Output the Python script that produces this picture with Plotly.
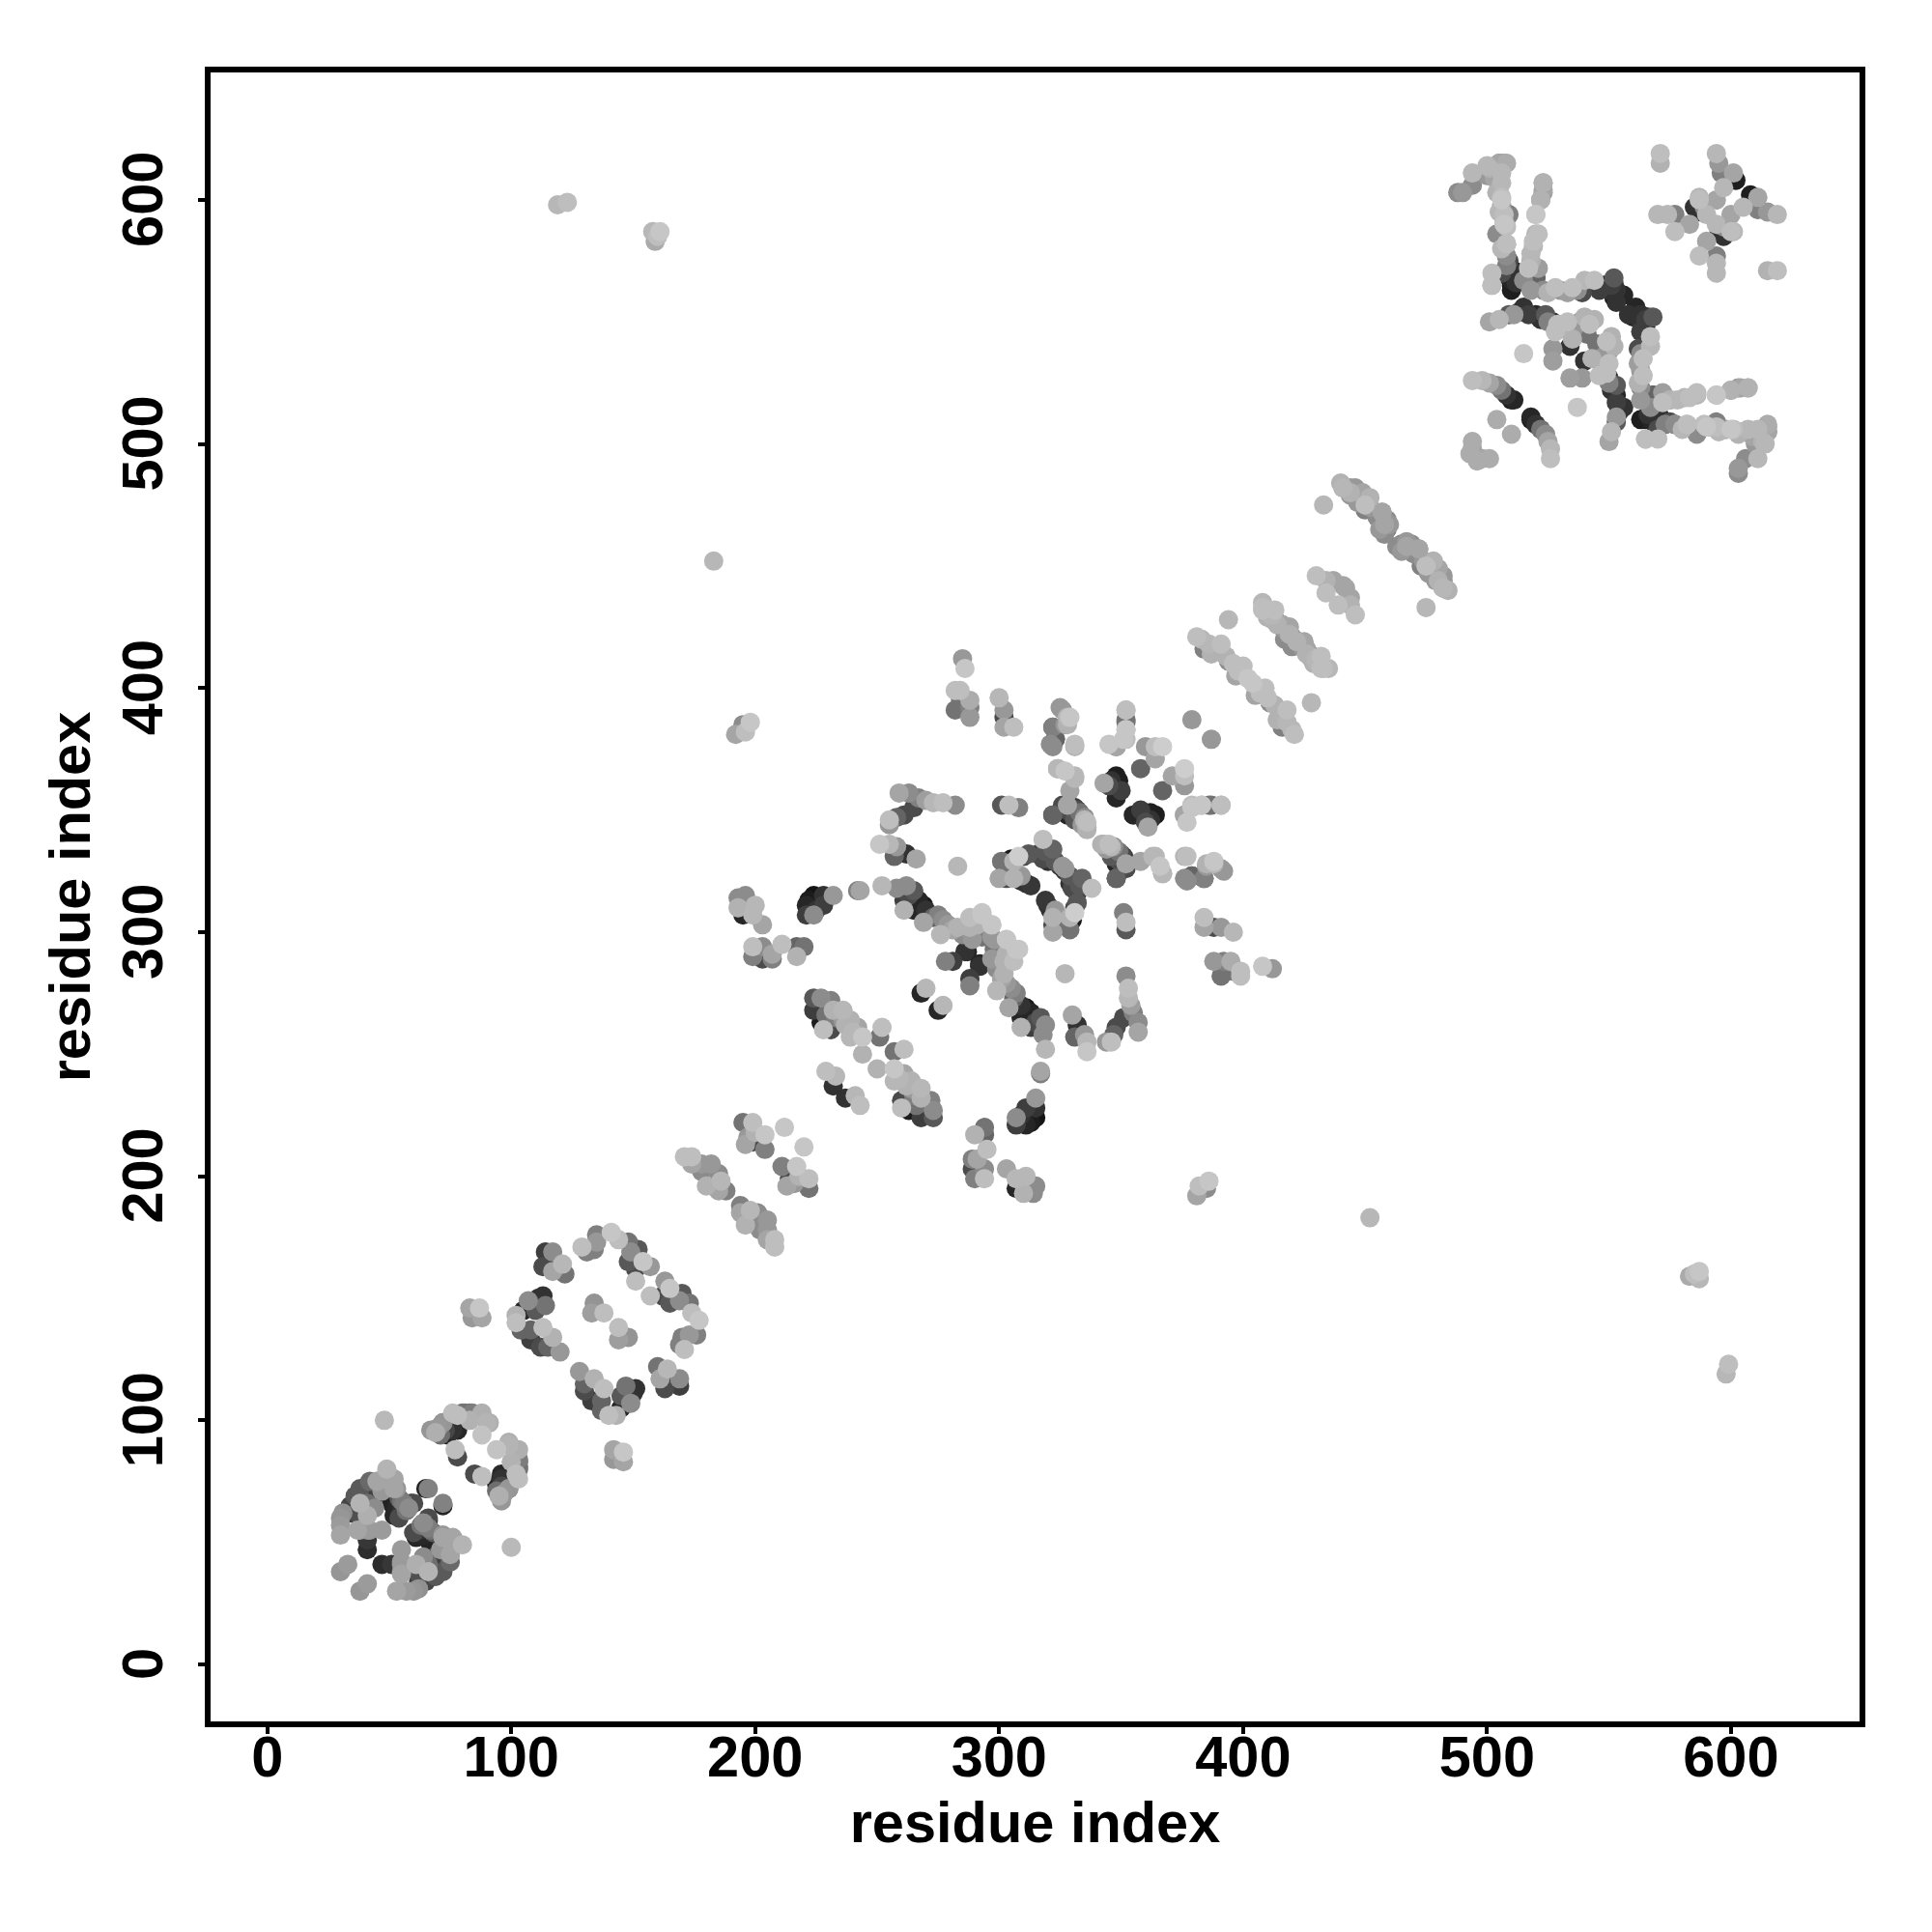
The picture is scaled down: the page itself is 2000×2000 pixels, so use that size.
import plotly.graph_objects as go

res_i = [
 30,33,30,30,30,31,34,37,38,42,
 42,45,49,52,52,41,38,41,37,41,
 47,41,41,42,38,51,53,56,57,65,
 66,53,55,42,40,36,42,45,51,53,
 48,67,69,71,73,76,72,76,81,84,
 88,90,88,77,78,91,83,80,78,72,
 83,87,88,84,102,102,104,107,105,110,
 113,111,114,108,108,113,117,115,120,112,
 114,113,117,117,117,122,121,129,131,134,
 135,135,141,144,148,149,152,148,154,157,
 151,151,134,133,138,
 171,174,174,178,182,178,185,186,180,185,188,
 195,199,200,204,197,196,199,204,212,
 224,224,227,231,227,230,232,236,231,236,
 239,242,244,239,228,252,251,244,229,233,232,
 192,195,198,196,285,286,282,284,284,288,
 288,282,288,300,302,302,306,302,325,329,
 322,323,321,331,327,259,263,267,270,277,
 282,273,261,258,255,255,265,301,304,308,
 322,251,255,258,262,266,257,283,193,196,
 200,203,195,193,199,199,203,199,203,207,
 211,217,220,217,207,221,221,224,224,228,
 228,232,243,242,252,258,262,265,261,269,
 265,261,269,275,277,276,281,287,288,293,
 297,294,289,286,281,278,303,308,298,302,
 287,268,270,301,305,308,312,300,303,306,
 309,313,318,319,321,323,318,326,329,331,
 333,335,336,332,324,327,331,329,352,352,
 352,352,348,345,348,345,350,348,343,358,
 360,364,367,364,379,342,345,347,346,350,
 352,348,348,364,367,376,376,379,384,388,
 391,385,376,379,383,387,391,
 383,386,390,393,396,398,402,408,412,416,
 418,420,424,426,430,435,394,430,434,437,
 434,441,433,441,446,449,452,457,459,459,
 467,472,474,478,482,484,183,119,123,158,
 160,159,161,
 488,490,494,494,500,500,505,508,506,506,
 506,509,505,508,504,508,508,509,508,512,
 502,502,510,515,520,518,523,528,533,537,
 540,544,539,552,550,555,552,501,505,509,
 511,515,520,524,527,529,534,533,538,540,
 544,515,527,527,534,535,541,520,523,523,
 522,521,519,518,521,571,571,594,595,596,
 597,601,602,570,574,577,577,583,585,587,
 589,589,588,587,590,594,
 494,498,501,504,506,508,510,511,504,494,
 494,493,
 508,508,508,506,507,507,506,505,504,507,505,502,
 517,518,518,519,520,520,522,523,523,
 520,514,512,510,506,502,
 381,384,387,391,394,397,400,410,414,417,
 419,422,425,428,432,413,444,447,450,455,
 457,460,463,465,470,473,476,479,482,226,
 229,233,237,240,501,503,504,506,507,506,
 509,510,511,512,525,530,535,546,548,553,
 556,553,552,551,513,517,522,525,528,531,
 536,542,540,346,347,349,302,303,306,310,
 311,309,316,320,322,325,327,330,328,334,
 263,267,270,273,279,283,285,291,295,298,
 222,226,225,34,36,39,44,47,52,54,
 55,60,54,52,58,59,44,70,74,78,
 83,
]
res_j = [
 38,41,53,57,60,62,65,62,72,71,
 75,75,80,76,72,66,66,61,55,55,
 55,51,47,55,55,66,64,66,63,72,
 72,66,67,65,69,65,72,75,75,72,
 100,96,95,94,96,96,99,103,103,103,
 103,99,94,88,85,99,103,103,96,99,
 146,146,142,142,140,143,137,149,145,145,
 151,150,147,137,133,138,134,130,128,130,
 169,163,169,165,161,160,164,171,169,170,
 173,176,177,174,173,169,170,165,165,163,
 162,157,148,144,144,
 208,208,205,205,205,202,201,198,196,194,194,
 222,222,218,217,216,213,214,211,220,
 273,268,273,272,263,269,268,268,260,264,
 264,261,257,257,260,261,257,250,243,241,237,
 381,385,386,382,412,408,399,399,396,395,
 388,391,392,396,391,388,384,384,392,388,
 384,379,377,377,385,357,357,355,354,353,
 352,353,348,347,346,344,351,352,352,351,
 348,336,336,335,332,330,331,327,314,315,
 311,303,307,310,307,294,294,290,289,291,
 295,294,294,290,289,311,307,315,307,315,
 311,315,317,317,319,318,319,317,313,311,
 309,309,304,307,305,299,301,301,306,307,
 303,299,297,292,288,288,297,293,293,288,
 292,275,277,329,330,331,332,322,322,322,
 321,319,338,333,332,329,330,352,352,351,
 349,346,343,347,367,366,363,358,391,386,
 383,379,376,377,364,360,358,355,361,367,
 376,376,376,371,387,336,336,335,331,332,
 328,322,328,331,324,331,322,323,322,328,
 326,328,348,351,352,352,352,
 420,418,415,413,410,407,404,433,430,426,
 423,421,417,414,411,408,428,446,444,444,
 439,442,475,482,482,480,478,472,469,465,
 458,457,452,450,444,440,452,598,599,587,
 585,583,587,
 603,603,606,611,614,610,615,615,611,607,
 601,594,595,589,586,582,577,572,569,570,
 570,565,563,567,568,563,563,564,562,563,
 567,567,562,568,563,561,560,550,551,553,
 553,556,553,553,550,549,546,550,550,546,
 551,537,539,534,540,543,545,594,607,603,
 600,586,581,575,572,619,615,619,615,611,
 605,611,608,594,594,594,587,590,597,601,
 595,597,595,600,594,600,
 526,526,525,524,522,520,518,518,510,501,
 498,496,
 573,577,582,586,590,594,600,605,609,615,615,612,
 572,575,578,583,586,594,600,604,607,
 568,568,570,565,570,565,
 421,416,414,418,411,405,409,429,427,420,
 425,419,416,412,408,432,480,477,475,470,
 468,467,458,456,455,450,447,444,441,270,
 266,265,262,259,613,609,603,598,591,580,
 575,567,571,566,562,563,564,563,565,563,
 561,558,566,565,554,553,551,550,546,548,
 548,549,552,362,359,362,328,325,329,331,
 320,323,332,329,334,327,326,348,350,344,
 315,313,309,306,303,302,299,303,301,297,
 313,312,309,62,69,68,69,71,68,68,
 63,66,60,61,64,66,64,97,94,102,
 100,
]
shade = [
 150,155,165,155,150,145,70,80,90,60,
 105,165,180,165,165,110,180,175,165,145,
 155,55,45,155,155,35,40,125,115,35,
 130,30,115,90,65,55,65,140,165,150,
 185,150,175,110,70,50,150,190,115,125,
 175,180,195,190,75,175,95,110,40,120,
 165,198,165,152,190,178,100,140,38,88,
 50,50,115,100,62,190,178,100,152,75,
 62,75,140,28,165,115,183,190,128,128,
 152,128,198,190,115,140,88,88,198,152,
 75,190,148,158,190,
 190,190,165,152,152,140,140,183,178,165,128,
 115,190,178,198,152,165,75,128,198,
 88,62,140,128,28,28,178,183,75,152,
 178,165,198,183,190,190,115,178,190,183,50,
 165,140,198,190,152,198,190,190,115,172,
 152,115,128,183,152,75,190,165,152,198,
 115,100,140,190,152,165,140,128,158,190,
 140,183,75,100,190,152,75,88,190,128,
 88,198,183,152,50,165,100,183,140,140,
 183,165,38,178,183,190,140,128,75,165,
 190,100,115,178,128,38,62,20,140,50,
 62,152,165,128,183,140,140,88,62,25,
 38,178,165,128,140,183,165,140,190,198,
 198,75,152,50,62,128,198,198,115,178,
 38,38,183,115,25,205,88,165,75,178,
 50,55,190,88,25,88,75,75,50,62,
 115,183,178,75,183,198,183,165,190,115,
 183,190,165,198,30,75,62,38,165,100,
 152,190,205,165,152,178,190,140,88,75,
 165,100,38,183,178,183,140,75,128,183,
 152,178,165,198,198,115,190,
 183,183,178,178,190,190,198,190,183,165,
 75,140,152,178,183,183,183,190,178,165,
 190,165,183,183,152,165,178,165,140,128,
 165,165,152,140,152,178,183,183,190,183,
 190,170,198,
 140,152,140,183,183,152,165,172,183,183,
 190,128,183,190,140,190,140,38,28,50,
 190,183,30,140,100,152,140,190,158,140,
 183,190,75,88,50,38,30,165,183,88,
 152,50,38,88,50,190,115,190,152,115,
 178,198,152,158,50,178,115,190,178,152,
 165,190,183,178,158,190,178,183,152,128,
 183,165,30,183,183,128,190,165,50,183,
 50,140,28,190,183,165,
 190,183,165,140,115,50,30,38,172,172,
 165,172,
 128,128,190,140,198,190,198,165,128,152,140,152,
 190,178,183,190,183,198,178,165,178,
 88,38,28,28,75,190,
 190,128,178,190,140,165,190,178,75,140,
 165,178,140,178,190,190,178,152,190,140,
 128,152,140,152,140,128,152,152,165,50,
 115,128,178,183,178,165,178,152,178,183,
 75,38,28,50,178,152,190,62,38,50,
 38,50,50,62,50,62,50,128,190,178,
 152,190,178,50,38,30,50,115,178,75,
 50,152,62,50,100,50,152,62,75,152,
 75,38,50,100,152,178,140,178,128,152,
 28,28,50,62,88,50,62,152,28,88,
 50,75,75,38,140,28,140,152,38,190,
 178,
]
tick_values = [0, 100, 200, 300, 400, 500, 600]
axis_label = "residue index"

assert len(res_i) == len(res_j) == len(shade), (len(res_i), len(res_j), len(shade))

# mirrored contact map, drawn with the darker contacts underneath the lighter ones
x_all = res_i + res_j
y_all = res_j + res_i
g_all = shade + shade
order = sorted(range(len(g_all)), key=lambda k: g_all[k])
fig = go.Figure(go.Scatter(
    x=[x_all[k] for k in order], y=[y_all[k] for k in order], mode="markers",
    marker=dict(size=20, color=[f"rgb({g_all[k]},{g_all[k]},{g_all[k]})" for k in order], line=dict(width=0)),
    hoverinfo="skip",
))
font = dict(family="Liberation Sans", size=59.5, color="black")
tick_font = dict(family="Liberation Sans", size=59.5, color="black")
axis_common = dict(
    tickvals=tick_values, ticks="outside", ticklen=7, tickwidth=4, tickcolor="black",
    showline=True, linewidth=6, linecolor="black", mirror=True,
    showgrid=False, zeroline=False, tickfont=tick_font,
)
fig.update_xaxes(range=[-23.24, 652.7], ticktext=[f"<b>{v}</b>" for v in tick_values],
                 ticklabelstandoff=-27,
                 title=dict(text=f"<b>{axis_label}</b>", font=font, standoff=16), **axis_common)
fig.update_yaxes(range=[-23.35, 652.2], ticktext=[f"<b>{v}</b>\u00a0" for v in tick_values],
                 tickangle=-90, ticklabelstandoff=13,
                 title=dict(text=f"<b>{axis_label}</b>", font=font, standoff=3), **axis_common)
fig.update_layout(
    width=2000, height=2000, autosize=False, showlegend=False,
    paper_bgcolor="white", plot_bgcolor="white",
    margin=dict(l=210, r=83, t=67, b=226),
)
fig.write_html("out.html")
